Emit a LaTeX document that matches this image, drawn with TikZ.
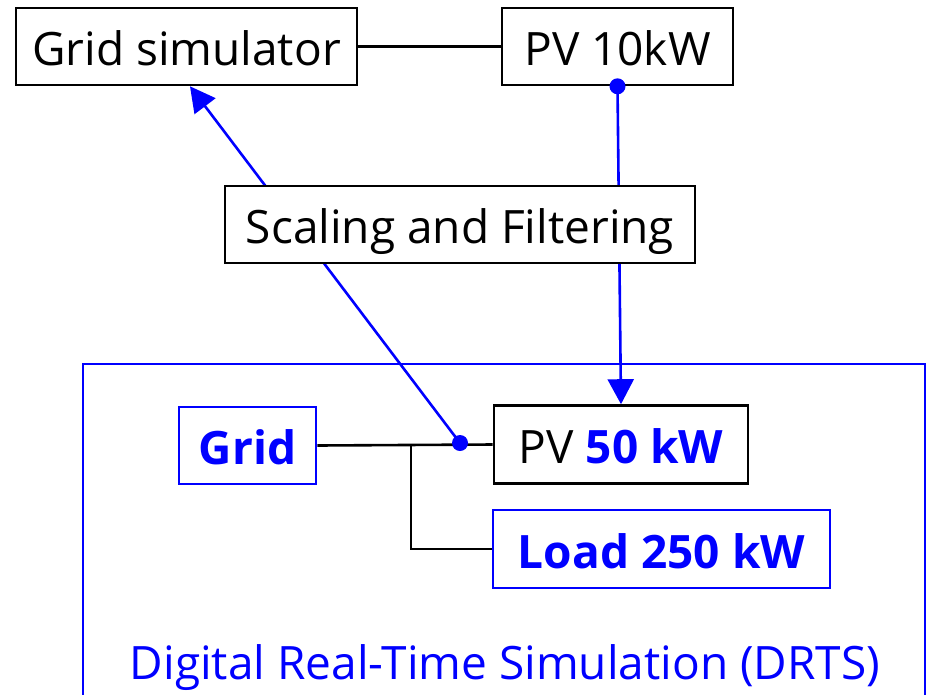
\documentclass[tikz,border=0pt]{standalone}
\usepackage{fontspec}
\setmainfont{Open Sans}
\usepackage{tikz}
\usetikzlibrary{arrows.meta,backgrounds}
\definecolor{drts}{RGB}{0,0,255}

\begin{document}
\begin{tikzpicture}[x=1pt,y=1pt, font=\fontsize{46}{54}\selectfont,
  every node/.style={text height=38pt, text depth=0pt},
  blk/.style={draw=black, line width=2.6pt, fill=white, inner sep=0pt},
  bluebox/.style={draw=drts, line width=2.6pt, fill=white, inner sep=0pt, text=drts, font=\fontsize{46}{54}\selectfont\bfseries},
  sig/.style={drts, line width=2.6pt},
  arr/.style={sig, -{Triangle[length=25pt, width=26pt]}},
  dot/.style={circle, fill=drts, inner sep=0pt, minimum size=16pt, text height=, text depth=}]
  \useasboundingbox (0,0) rectangle (926,-694);
  % hardware side
  \node[blk, minimum width=341pt, minimum height=77pt] (gridsim) at (186.5,-46.5) {Grid simulator};
  \node[blk, minimum width=231pt, minimum height=77pt] (pv10) at (617.5,-46.5) {PV 10kW};
  \node[blk, minimum width=470pt, minimum height=77pt] (scaling) at (460,-224.5) {Scaling and Filtering};
  % DRTS frame
  \draw[drts, line width=2.8pt] (83,-720) |- (925,-364) -- (925,-720);
  \node[text=drts] (drtslabel) at (505,-660) {Digital Real-Time Simulation (DRTS)};
  \node[bluebox, minimum width=137pt, minimum height=77pt] (grid) at (247.5,-445.5) {Grid};
  \node[blk, minimum width=254pt, minimum height=78pt] (pv50) at (621,-444.5) {PV \textcolor{drts}{\bfseries 50 kW}};
  \node[bluebox, minimum width=337pt, minimum height=78pt] (load) at (661.5,-549) {Load 250 kW};
  % connectors
  \draw[line width=2.6pt] (gridsim.east) -- (pv10.west);
  \draw[line width=2.6pt] (grid.east) -- (pv50.west);
  \coordinate (tap) at (411,-445.5);
  \draw[line width=2.6pt] (tap) |- (load.west);
  \node[dot] (meas) at (460,-443) {};
  \node[dot] (pvout) at (pv10.south) {};
  \begin{scope}[on background layer]
    \draw[arr] (meas.center) -- ([xshift=3.5pt]gridsim.south);
    \draw[arr] (pvout.center) -- (pv50.north);
  \end{scope}
\end{tikzpicture}
\end{document}
